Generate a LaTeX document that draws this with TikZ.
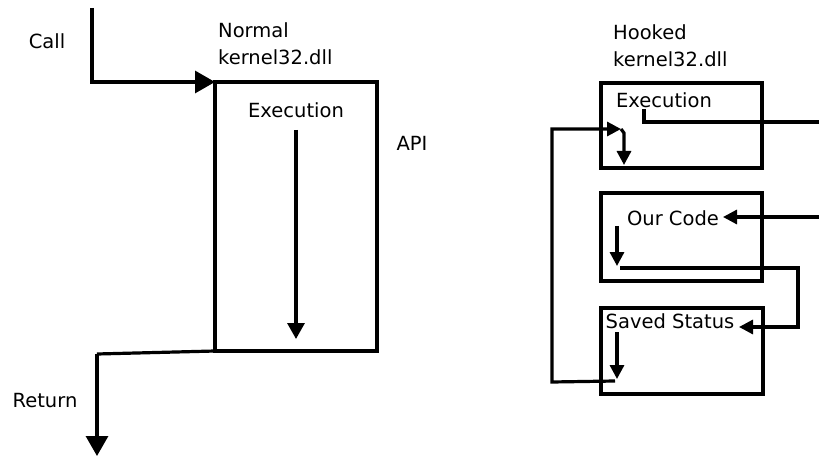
\documentclass[tikz,border=0pt]{standalone}
\usepackage{fontspec}
\setmainfont{DejaVu Sans}
\usetikzlibrary{arrows.meta}
\tikzset{
  lbl/.style={inner sep=0pt, font=\fontsize{19.5}{27}\selectfont},
  box/.style={draw, line width=3.2pt, inner sep=0pt, outer sep=0pt, anchor=north west},
  wire/.style={line width=3.2pt},
  bigarrow/.style={wire, -{Triangle[length=20pt,width=22pt]}},
  midarrow/.style={wire, -{Triangle[length=16pt,width=17pt]}},
  smallarrow/.style={wire, -{Triangle[length=14pt,width=14pt]}}
}
\begin{document}
\begin{tikzpicture}[x=1pt,y=-1pt]
\useasboundingbox (0,0) rectangle (819,457);
\node[box, minimum width=162pt, minimum height=269pt] (normal) at (215,82) {};
\node[lbl] (call) at (47,41) {Call};
\node[lbl, align=left, anchor=west] (normalname) at (218,44) {Normal\\kernel32.dll};
\node[lbl] (normalexec) at (296,110) {Execution};
\node[lbl] (api) at (412,143) {API};
\node[lbl] (return) at (45,401) {Return};
\coordinate (callstart) at (92,8);
\coordinate (exectop) at (296,130);
\coordinate (execbot) at (296,339);
\coordinate (retcorner) at (97,354);
\coordinate (retend) at (97,456);
\draw[bigarrow] (callstart) |- (normal.north west);
\draw[midarrow] (exectop) -- (execbot);
\draw[wire] (normal.south west) -- (retcorner);
\draw[bigarrow] (retcorner) -- (retend);
\node[box, minimum width=161pt, minimum height=85pt] (hookexec) at (601,83) {};
\node[box, minimum width=161pt, minimum height=88pt] (ourcode) at (601,193) {};
\node[box, minimum width=162pt, minimum height=86pt] (saved) at (601,308) {};
\node[lbl, align=left, anchor=west] (hookname) at (613,46) {Hooked\\kernel32.dll};
\node[lbl] (hookexectxt) at (664,100) {Execution};
\node[lbl] (ourcodetxt) at (673,218) {Our Code};
\node[lbl] (savedtxt) at (670,321) {Saved Status};
\coordinate (jmpstart) at (644,109);
\coordinate (jmpend) at (819,122);
\coordinate (ourin) at (819,217);
\coordinate (ourtip) at (723,217);
\coordinate (ourtop) at (617,226);
\coordinate (ourbot) at (617,266);
\coordinate (out1) at (620,268);
\coordinate (out2) at (798,327);
\coordinate (out3) at (739,327);
\coordinate (savtop) at (617,332);
\coordinate (savbot) at (617,379);
\coordinate (back1) at (615,381);
\coordinate (back2) at (552,382);
\coordinate (back3) at (552,129);
\coordinate (back4) at (621,129);
\coordinate (resume1) at (624,133);
\coordinate (resume2) at (624,165);
\draw[wire] (jmpstart) |- (jmpend);
\draw[smallarrow] (ourin) -- (ourtip);
\draw[smallarrow] (ourtop) -- (ourbot);
\draw[smallarrow] (out1) -| (out2) -- (out3);
\draw[smallarrow] (savtop) -- (savbot);
\draw[smallarrow] (back1) -- (back2) -- (back3) -- (back4);
\draw[smallarrow] (back4) -- (resume1) -- (resume2);
\end{tikzpicture}
\end{document}
